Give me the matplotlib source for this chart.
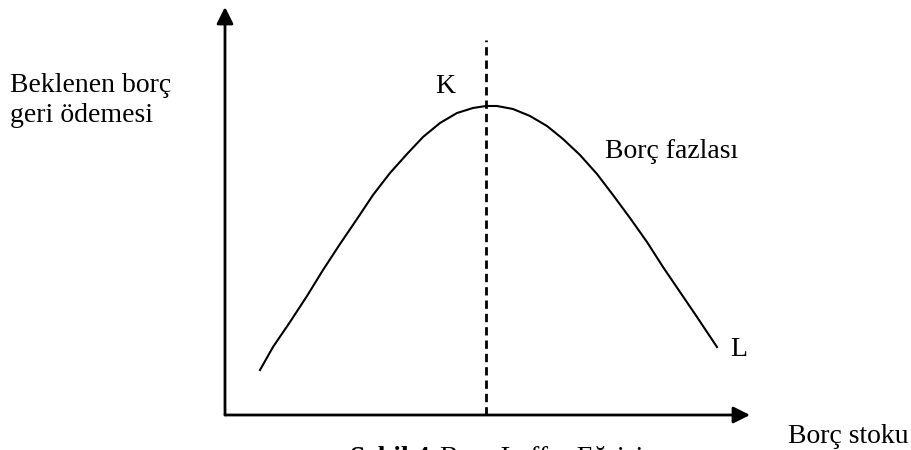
import matplotlib.pyplot as plt

plt.rcParams["font.family"] = ["Liberation Serif", "DejaVu Serif"]

# Borç Laffer eğrisi (resimden okunan noktalar, eksen başlangıcına göre)
borc_stoku = [35, 48, 65, 82, 98, 115, 132, 148, 165, 182, 198, 215, 232, 248, 261,
              272, 288, 305, 322, 338, 355, 372, 388, 405, 422, 438, 455, 472, 492]
geri_odeme = [45, 68, 93, 119, 145, 171, 196, 220, 242, 261, 278, 292, 302, 307, 309,
              309, 306, 299, 289, 276, 260, 241, 220, 197, 173, 148, 123, 98, 68]
tepe_x = 261
tepe_ust = 375

fig = plt.figure(figsize=(9.11, 4.5), dpi=100)
ax = fig.add_axes([0, 0, 1, 1])
ax.set_xlim(-225, 686)
ax.set_ylim(-35, 415)
ax.axis("off")

# eksenler (oklu)
ok = dict(arrowstyle="-|>", color="black", lw=2, mutation_scale=25, shrinkA=0, shrinkB=0)
ax.annotate("", xy=(0, 408), xytext=(0, 0), arrowprops=ok)
ax.annotate("", xy=(525, 0), xytext=(0, 0), arrowprops=ok)

# eğri ve kesikli çizgi
ax.plot(borc_stoku, geri_odeme, color="black", lw=1.5, solid_joinstyle="round")
ax.plot([tepe_x, tepe_x], [0, tepe_ust], color="black", lw=2, linestyle=(0, (3, 1.8)))

fs = 20
ax.text(-215, 323, "Beklenen borç", fontsize=fs, va="baseline")
ax.text(-215, 293, "geri ödemesi", fontsize=fs, va="baseline")
ax.text(210, 322, "K", fontsize=fs, va="baseline")
ax.text(505, 59, "L", fontsize=fs, va="baseline")
ax.text(380, 257, "Borç fazlası", fontsize=fs, va="baseline")
ax.text(563, -28, "Borç stoku", fontsize=fs, va="baseline")

# alt yazı (referansta olduğu gibi alttan kesik)
ax.text(125, -50, "Şekil 4.", fontsize=fs, fontweight="bold", va="baseline")
ax.text(215, -50, "Borç Laffer Eğrisi", fontsize=fs, va="baseline")

fig.savefig("out.png", dpi=100)
